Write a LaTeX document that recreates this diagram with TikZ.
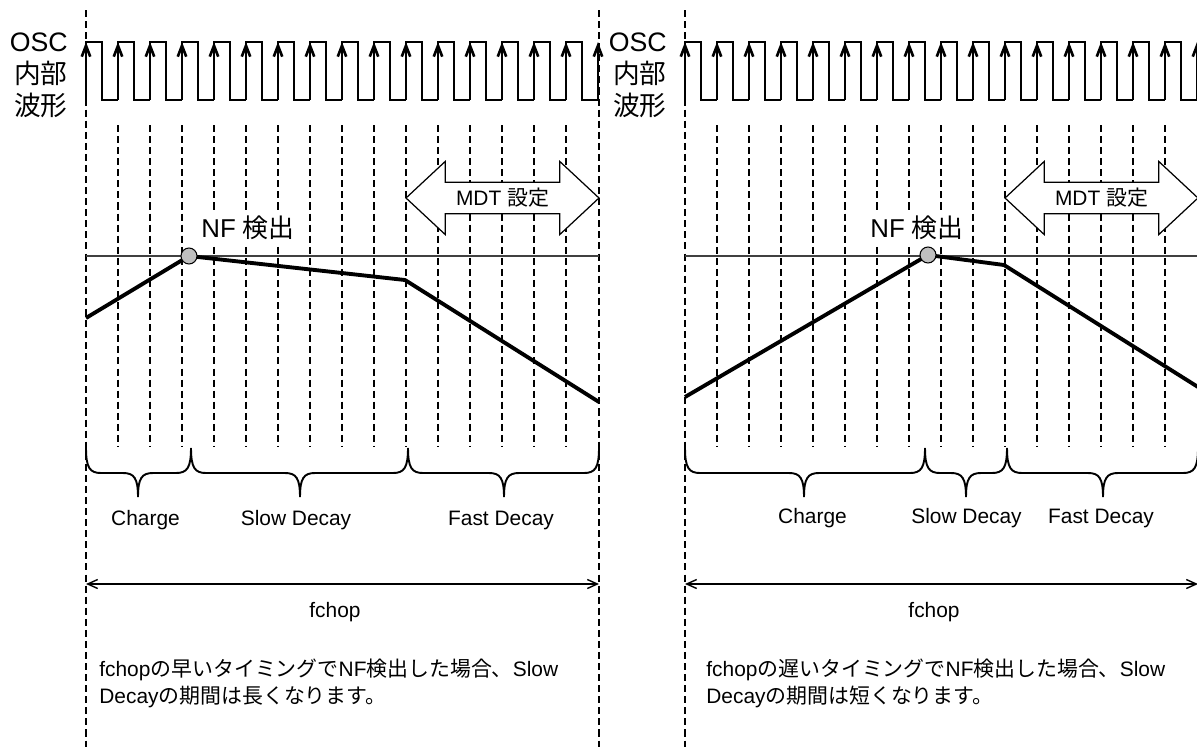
\documentclass[tikz,border=0pt]{standalone}
\usepackage{fontspec}
\setmainfont{Liberation Sans}
\newfontfamily\jp{Noto Sans CJK JP}
\usetikzlibrary{arrows.meta,shapes.arrows}

% curly brace under a phase: left end, tip, right end
\newcommand{\phasebrace}[3]{%
    \draw[curly] (#1,448) .. controls (#1,468) and ({#1+4},473) .. ({#1+15},473)
        -- ({#2-15},473) .. controls ({#2-4},473) and (#2,478) .. (#2,497)
        .. controls (#2,478) and ({#2+4},473) .. ({#2+15},473)
        -- ({#3-15},473) .. controls ({#3-4},473) and (#3,468) .. (#3,448);}

\begin{document}
\begin{tikzpicture}
        [
            x                 = 0.02cm,
            y                 = -0.02cm,
            every node/.style = {font=\fontsize{11.9}{15.3}\selectfont, inner sep=0pt},
            bound/.style      = {draw, line width=0.6pt, dash pattern=on 4pt off 2.3pt},
            slot/.style       = {draw, line width=0.6pt, dash pattern=on 4pt off 2.3pt},
            wave/.style       = {draw, line width=1.5pt},
            rise/.style       = {draw, line width=1.5pt, -{Straight Barb[length=2.2mm,width=1.7mm]}},
            thresh/.style     = {draw, black!75, line width=0.9pt},
            current/.style    = {draw, line width=2.2pt, line join=round},
            dot/.style        = {shape=circle, draw, fill=black!25, minimum size=0.32cm, line width=0.6pt},
            mdt/.style        = {shape=double arrow, draw, fill=white, line width=0.7pt,
                                 minimum height=3.86cm, minimum width=1.46cm,
                                 double arrow head extend=0.36cm, double arrow tip angle=86, inner sep=2pt},
            curly/.style      = {draw, line width=1.1pt},
            span/.style       = {draw, line width=0.8pt, {Straight Barb[length=2mm,width=1.8mm]}-{Straight Barb[length=2mm,width=1.8mm]}},
            oscname/.style    = {font=\fontsize{15.2}{18.2}\selectfont, align=right, anchor=east},
            nfname/.style     = {font=\fontsize{14.7}{17}\selectfont, fill=white, inner sep=2pt},
            note/.style       = {align=left, anchor=west},
        ]
        \useasboundingbox (0,0) rectangle (1197,747);

        % parts both panels share
        \foreach \ox/\p in {86/L, 685/R} {
            \draw[bound] (\ox,10) -- (\ox,747);
            \draw[bound] (\ox+513,10) -- (\ox+513,747);
            \node[oscname] (osc\p) at (\ox-18,75) {OSC\\{\jp 内部}\\{\jp 波形}};
            \foreach \k in {0,...,15}
                \draw[wave] (\ox+32*\k,100) -- ++(0,-58) -- ++(16,0) -- ++(0,58) -- ++(16,0);
            \foreach \k in {0,...,16}
                \draw[rise] (\ox+32*\k,100) -- (\ox+32*\k,42);
            \foreach \k in {1,...,15}
                \draw[slot] (\ox+32*\k,125) -- (\ox+32*\k,447);
            \draw[thresh] (\ox,256) -- (\ox+513,256);
            \node[mdt] (mdt\p) at (\ox+416.5,198) {MDT {\jp 設定}};
            \coordinate (fa\p) at (\ox,584);
            \coordinate (fb\p) at (\ox+513,584);
            \draw[span] (fa\p) -- (fb\p);
            \node (fchop\p) at (\ox+249,612) {fchop};
        }

        % left panel: NF found early
        \coordinate (startL) at (86,318);
        \coordinate (peakL)  at (189,256);
        \coordinate (kneeL)  at (405,280);
        \coordinate (endL)   at (599,402);
        \draw[current] (startL) -- (peakL) -- (kneeL) -- (endL);
        \node[dot] (nfL) at (peakL) {};
        \node[nfname] (nfnameL) at (248,228) {NF {\jp 検出}};
        \phasebrace{86}{138}{191}
        \phasebrace{191}{300}{408}
        \phasebrace{408}{504}{599}
        \node (chargeL) at (145.5,520) {Charge};
        \node (slowL)   at (296,520)   {Slow Decay};
        \node (fastL)   at (501,520)   {Fast Decay};
        \node[note] (noteL) at (99,683.5) {fchop{\jp の早いタイミングで}NF{\jp 検出した場合、}Slow\\Decay{\jp の期間は長くなります。}};

        % right panel: NF found late
        \coordinate (startR) at (685,397);
        \coordinate (peakR)  at (928,255);
        \coordinate (kneeR)  at (1004,265);
        \coordinate (endR)   at (1198,387);
        \draw[current] (startR) -- (peakR) -- (kneeR) -- (endR);
        \node[dot] (nfR) at (peakR) {};
        \node[nfname] (nfnameR) at (917,228) {NF {\jp 検出}};
        \phasebrace{685}{804}{925}
        \phasebrace{925}{966}{1007}
        \phasebrace{1007}{1103}{1198}
        \node (chargeR) at (812.5,518) {Charge};
        \node (slowR)   at (966.5,518) {Slow Decay};
        \node (fastR)   at (1101,518)  {Fast Decay};
        \node[note] (noteR) at (706,683.5) {fchop{\jp の遅いタイミングで}NF{\jp 検出した場合、}Slow\\Decay{\jp の期間は短くなります。}};
\end{tikzpicture}
\end{document}
